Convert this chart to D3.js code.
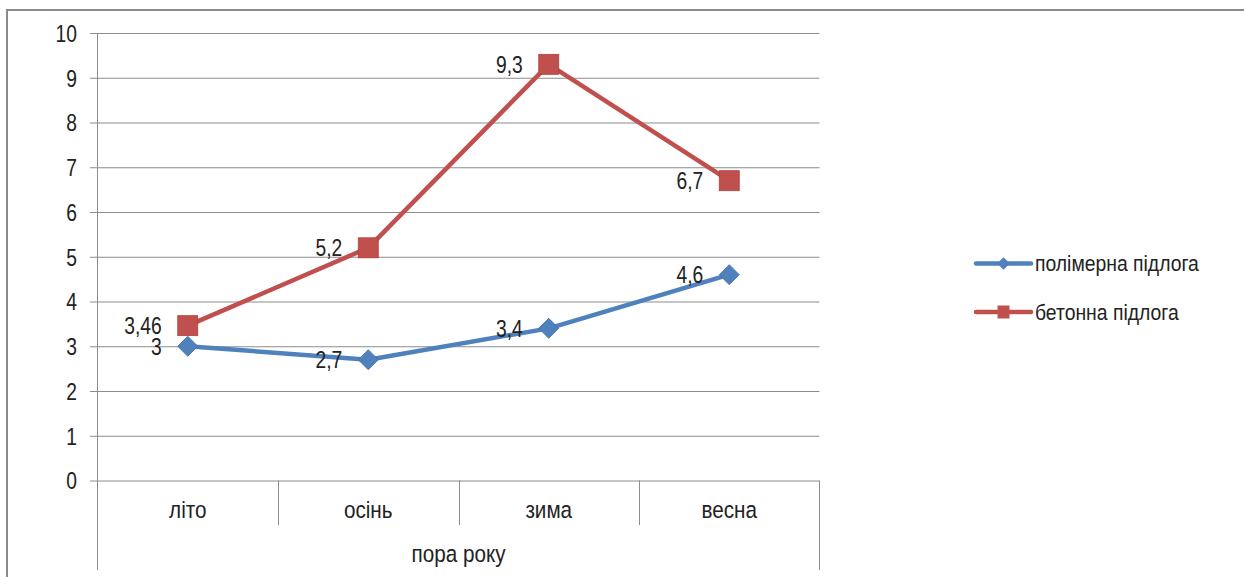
<!DOCTYPE html>
<html>
<head>
<meta charset="utf-8">
<script src="https://cdn.jsdelivr.net/npm/d3@7"></script>
<style>
  html, body { margin: 0; padding: 0; background: #fff; }
  svg { display: block; }
  text { font-family: "Liberation Sans", Arial, sans-serif; fill: #222; }
</style>
</head>
<body>
<svg id="chart" width="1244" height="577"></svg>
<script>
// Seasons on the x axis
const categories = ["літо", "осінь", "зима", "весна"];
// Series names
const seriesNames = ["полімерна підлога", "бетонна підлога"];
// Series values
const polymerValues = [3, 2.7, 3.4, 4.6];
const concreteValues = [3.46, 5.2, 9.3, 6.7];
// Value axis ticks
const yTicks = [0, 1, 2, 3, 4, 5, 6, 7, 8, 9, 10];
const xAxisTitle = "пора року";

const colors = ["#4F81BD", "#C0504D"];
const fmt = v => String(v).replace(".", ",");
const narrowDigits = 0.82;  // horizontal squeeze for numbers
const narrowWords = 0.88;   // horizontal squeeze for words
const fontSize = "23.5px";

const svg = d3.select("#chart");

// narrow text placed at (px, py)
function narrowText(parent, px, py, str, anchor, size, dy, squeeze) {
  return parent.append("text")
    .attr("transform", `translate(${px},${py}) scale(${squeeze || narrowDigits},1)`)
    .attr("text-anchor", anchor)
    .attr("dy", dy || 0)
    .style("font-size", size || fontSize)
    .text(str);
}

// outer chart frame
svg.append("rect")
  .attr("x", 7).attr("y", 10)
  .attr("width", 1400).attr("height", 800)
  .attr("fill", "none").attr("stroke", "#8a8a8a").attr("stroke-width", 2);

const plotLeft = 97.5, plotRight = 819.5, plotTop = 33, plotBottom = 480.5;

const x = d3.scaleBand().domain(categories).range([plotLeft, plotRight]).padding(0);
const y = d3.scaleLinear().domain([0, 10]).range([plotBottom, plotTop]);

const gridColor = "#8c8c8c";

// horizontal gridlines with short outer tick marks
const yAxis = d3.axisLeft(y).tickValues(yTicks).tickSize(0).tickPadding(0).tickFormat(d => d);
const gy = svg.append("g").attr("transform", `translate(${plotLeft},0)`);
gy.call(yAxis);
gy.select(".domain").remove();
gy.selectAll(".tick line").attr("stroke", gridColor).attr("stroke-width", 1)
  .attr("x1", -(plotLeft - 90)).attr("x2", plotRight - plotLeft);
gy.selectAll(".tick text").remove();
gy.selectAll(".tick").each(function(d) {
  narrowText(d3.select(this), 77 - plotLeft, 0, d, "end", fontSize, "0.36em");
});

// vertical axis line extending down through the category area
svg.append("line")
  .attr("x1", plotLeft).attr("x2", plotLeft).attr("y1", plotTop).attr("y2", 570)
  .attr("stroke", gridColor);
svg.append("line")
  .attr("x1", plotRight).attr("x2", plotRight).attr("y1", plotBottom).attr("y2", 570)
  .attr("stroke", gridColor);

// category separators
const bounds = categories.slice(1).map(c => x(c));
svg.selectAll("line.sep").data(bounds).enter().append("line")
  .attr("class", "sep")
  .attr("x1", d => Math.round(d) + 0.5).attr("x2", d => Math.round(d) + 0.5)
  .attr("y1", plotBottom).attr("y2", 525)
  .attr("stroke", gridColor);

// category labels
const catG = svg.append("g");
categories.forEach(c => narrowText(catG, x(c) + x.bandwidth() / 2, 518, c, "middle", fontSize, 0, narrowWords));

// axis title
narrowText(svg, (plotLeft + plotRight) / 2, 562, xAxisTitle, "middle", fontSize, 0, narrowWords);

const series = [polymerValues, concreteValues];
const cx = c => x(c) + x.bandwidth() / 2;
const line = d3.line().x((d, i) => cx(categories[i])).y(d => y(d));

series.forEach((vals, s) => {
  svg.append("path")
    .datum(vals)
    .attr("d", line)
    .attr("fill", "none")
    .attr("stroke", colors[s])
    .attr("stroke-width", 4.5)
    .attr("stroke-linejoin", "round");
});

// markers
const diamond = d3.symbol().type(d3.symbolSquare).size(200);
series.forEach((vals, s) => {
  const g = svg.append("g");
  vals.forEach((v, i) => {
    const px = cx(categories[i]), py = y(v);
    if (s === 0) {
      g.append("path")
        .attr("d", diamond())
        .attr("transform", `translate(${px},${py}) rotate(45)`)
        .attr("fill", colors[s])
        .attr("stroke", "#3f70aa").attr("stroke-width", 0.8);
    } else {
      g.append("rect")
        .attr("x", px - 10).attr("y", py - 10)
        .attr("width", 20).attr("height", 20)
        .attr("fill", colors[s])
        .attr("stroke", "#b0403d").attr("stroke-width", 0.8);
    }
  });
});

// data labels, left of each point
series.forEach((vals) => {
  const g = svg.append("g");
  vals.forEach((v, i) => narrowText(g, cx(categories[i]) - 26, y(v), fmt(v), "end", fontSize, "0.36em"));
});

// legend
const legendY = [263.5, 312];
seriesNames.forEach((name, s) => {
  const g = svg.append("g");
  g.append("line")
    .attr("x1", 976).attr("x2", 1031)
    .attr("y1", legendY[s]).attr("y2", legendY[s])
    .attr("stroke", colors[s]).attr("stroke-width", 4.5)
    .attr("stroke-linecap", "round");
  if (s === 0) {
    g.append("path")
      .attr("d", d3.symbol().type(d3.symbolSquare).size(80)())
      .attr("transform", `translate(1003.5,${legendY[s]}) rotate(45)`)
      .attr("fill", colors[s]);
  } else {
    g.append("rect")
      .attr("x", 997.5).attr("y", legendY[s] - 6.5)
      .attr("width", 12).attr("height", 13)
      .attr("fill", colors[s]);
  }
  narrowText(g, 1035, legendY[s], name, "start", "22px", "0.36em", narrowWords);
});
</script>
</body>
</html>
